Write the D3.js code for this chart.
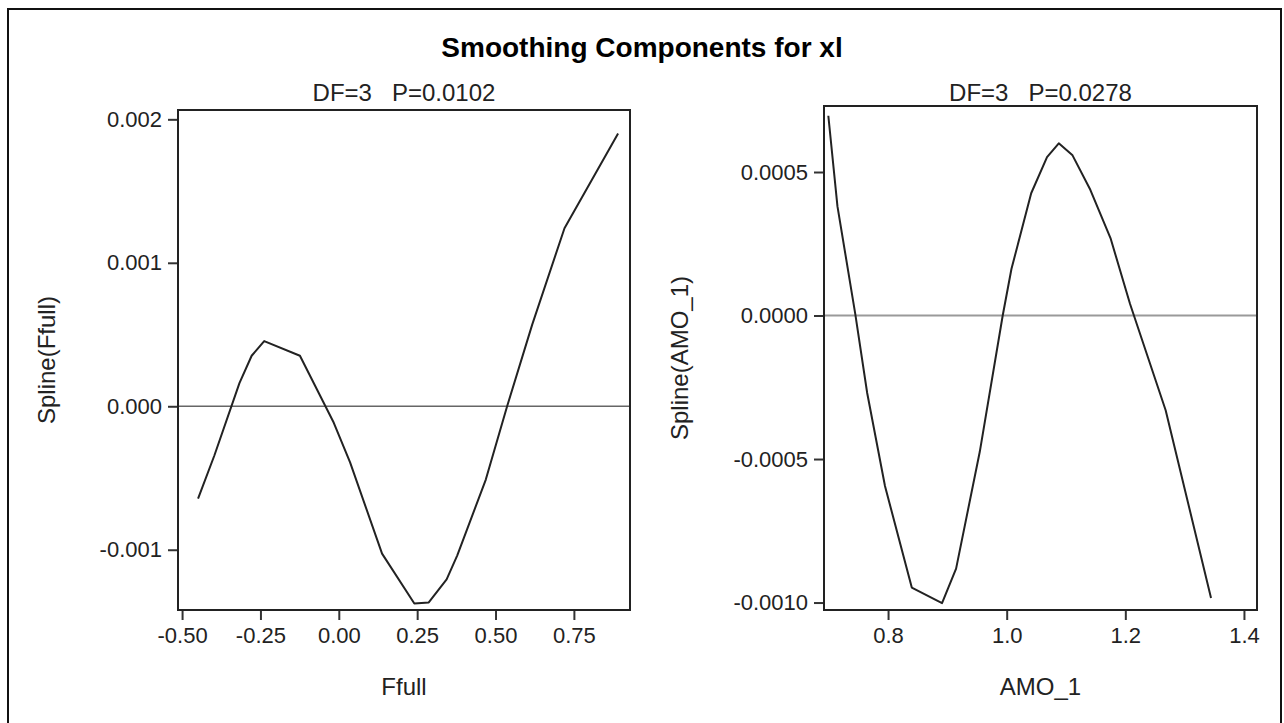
<!DOCTYPE html>
<html>
<head>
<meta charset="utf-8">
<script src="https://cdn.jsdelivr.net/npm/d3@7"></script>
<style>
html, body { margin: 0; padding: 0; background: #fff; }
svg { display: block; font-family: "Liberation Sans", Arial, sans-serif; }
</style>
</head>
<body>
<svg id="chart" width="1284" height="723"></svg>
<script>
// ---- data ----
const chartTitle = "Smoothing Components for xl";
const leftSubtitle = "DF=3   P=0.0102";
const rightSubtitle = "DF=3   P=0.0278";

const ffull = [-0.449, -0.397, -0.317, -0.278, -0.238, -0.124, -0.016, 0.036, 0.138, 0.241, 0.287, 0.344, 0.378, 0.469, 0.537, 0.617, 0.720, 0.891];
const splineFfull = [-0.000643, -0.000343, 0.000161, 0.000352, 0.000454, 0.000352, -0.000115, -0.000391, -0.001027, -0.001375, -0.001367, -0.001207, -0.001039, -0.000511, 0.0, 0.000569, 0.001241, 0.001901];

const amo1 = [0.6993, 0.7147, 0.7447, 0.7648, 0.7948, 0.840, 0.891, 0.9147, 0.9547, 0.9933, 1.008, 1.0413, 1.068, 1.0878, 1.111, 1.141, 1.175, 1.208, 1.268, 1.3445];
const splineAmo1 = [0.000696, 0.00038, 0.0000059, -0.00027, -0.000594, -0.000948, -0.001002, -0.000882, -0.000474, 0.0, 0.000162, 0.000426, 0.000552, 0.0006, 0.000558, 0.000438, 0.00027, 0.00004, -0.00033, -0.000984];

const leftXTicks = [-0.50, -0.25, 0.00, 0.25, 0.50, 0.75];
const leftYTicks = [0.002, 0.001, 0.000, -0.001];
const rightXTicks = [0.8, 1.0, 1.2, 1.4];
const rightYTicks = [0.0005, 0.0000, -0.0005, -0.0010];

const leftXLabel = "Ffull", leftYLabel = "Spline(Ffull)";
const rightXLabel = "AMO_1", rightYLabel = "Spline(AMO_1)";

// ---- drawing ----
const svg = d3.select("#chart");
const fmt = f => d => d3.format(f)(d).replace("\u2212", "-");

// outer border
svg.append("rect").attr("x", 8).attr("y", 9).attr("width", 1273).attr("height", 740)
  .attr("fill", "none").attr("stroke", "#111").attr("stroke-width", 2);

svg.append("text").attr("x", 642).attr("y", 57).attr("text-anchor", "middle")
  .attr("font-size", 28).attr("font-weight", "bold").attr("fill", "#000").text(chartTitle);

function panel(cfg) {
  const {x0, x1, y0, y1, xDom, yDom, xs, ys, xTicks, yTicks, xf, yf, sub, xLab, yLab, yLabX, zeroColor, zeroWidth} = cfg;
  const x = d3.scaleLinear().domain(xDom).range([x0, x1]);
  const y = d3.scaleLinear().domain(yDom).range([y1, y0]);
  const g = svg.append("g");

  // zero reference line
  g.append("line").attr("x1", x0).attr("x2", x1).attr("y1", y(0)).attr("y2", y(0))
    .attr("stroke", zeroColor).attr("stroke-width", zeroWidth);

  // curve
  const pts = xs.map((v, i) => [v, ys[i]]);
  g.append("path").datum(pts)
    .attr("d", d3.line().x(d => x(d[0])).y(d => y(d[1])))
    .attr("fill", "none").attr("stroke", "#222").attr("stroke-width", 2).attr("stroke-linejoin", "round");

  // axes
  const xa = g.append("g").attr("transform", `translate(0,${y1})`)
    .call(d3.axisBottom(x).tickValues(xTicks).tickFormat(fmt(xf)).tickSize(10).tickSizeOuter(0).tickPadding(7));
  const ya = g.append("g").attr("transform", `translate(${x0},0)`)
    .call(d3.axisLeft(y).tickValues(yTicks).tickFormat(fmt(yf)).tickSize(10).tickSizeOuter(0).tickPadding(6));
  [xa, ya].forEach(a => {
    a.select(".domain").remove();
    a.selectAll("line").attr("stroke", "#333").attr("stroke-width", 2);
    a.selectAll("text").attr("font-size", 22).attr("fill", "#222")
      .attr("font-family", "'Liberation Sans', Arial, sans-serif");
  });

  // frame
  g.append("rect").attr("x", x0).attr("y", y0).attr("width", x1 - x0).attr("height", y1 - y0)
    .attr("fill", "none").attr("stroke", "#222").attr("stroke-width", 2);

  // subtitle
  g.append("text").attr("x", (x0 + x1) / 2).attr("y", 101).attr("text-anchor", "middle")
    .attr("font-size", 24).attr("fill", "#222").style("white-space", "pre").text(sub);

  // axis labels
  g.append("text").attr("x", (x0 + x1) / 2).attr("y", 695).attr("text-anchor", "middle")
    .attr("font-size", 24).attr("fill", "#222").text(xLab);
  g.append("text").attr("transform", `translate(${yLabX},${(y0 + y1) / 2}) rotate(-90)`)
    .attr("text-anchor", "middle").attr("font-size", 24).attr("fill", "#222").text(yLab);
}

panel({x0: 178, x1: 630, y0: 110, y1: 610,
  xDom: [-0.513, 0.929], yDom: [-0.00142, 0.002065],
  xs: ffull, ys: splineFfull, xTicks: leftXTicks, yTicks: leftYTicks, xf: ".2f", yf: ".3f",
  sub: leftSubtitle, xLab: leftXLabel, yLab: leftYLabel, yLabX: 55, zeroColor: "#666", zeroWidth: 1.5});

panel({x0: 824, x1: 1257, y0: 106, y1: 610,
  xDom: [0.692, 1.422], yDom: [-0.001026, 0.00073],
  xs: amo1, ys: splineAmo1, xTicks: rightXTicks, yTicks: rightYTicks, xf: ".1f", yf: ".4f",
  sub: rightSubtitle, xLab: rightXLabel, yLab: rightYLabel, yLabX: 688, zeroColor: "#9a9a9a", zeroWidth: 2});
</script>
</body>
</html>
